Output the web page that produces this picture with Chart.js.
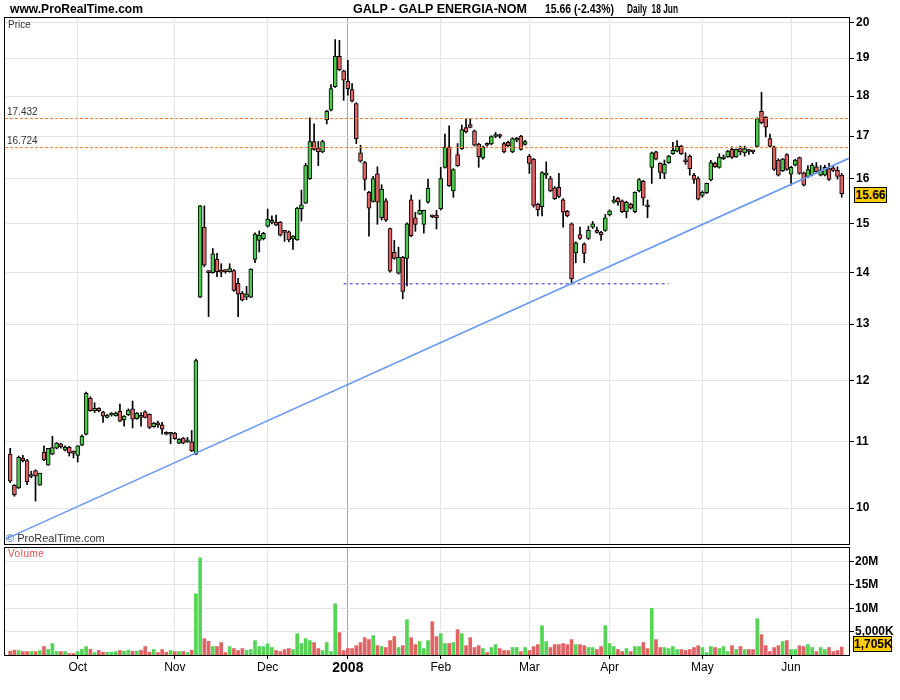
<!DOCTYPE html>
<html>
<head>
<meta charset="utf-8">
<title>GALP - GALP ENERGIA-NOM</title>
<script src="https://cdn.jsdelivr.net/npm/chart.js"></script>
<style>
  body { margin: 0; background: #fff; font-family: "Liberation Sans", Arial, sans-serif; }
  #page { position: relative; width: 900px; height: 700px; overflow: hidden; background: #fff; }
  canvas { position: absolute; left: 0; }
  .txt { position: absolute; white-space: pre; line-height: 1; color: #000; }
  .head { font-size: 13px; font-weight: bold; top: 2px; transform-origin: 0 0; }
  .box { position: absolute; background: #ffcc00; border: 1px solid #000; font-weight: bold;
         font-size: 12px; text-align: center; line-height: 14px; height: 14px; }
</style>
</head>
<body>
<div id="page">
  <canvas id="priceChart" width="900" height="546" style="top:0"></canvas>
  <canvas id="volumeChart" width="900" height="154" style="top:546px"></canvas>

  <div class="txt head" data-w="133" style="left:10px">www.ProRealTime.com</div>
  <div class="txt head" data-w="174" style="left:353px">GALP - GALP ENERGIA-NOM</div>
  <div class="txt head" data-w="69" style="left:545px">15.66 (-2.43%)</div>
  <div class="txt head" data-w="51" style="left:627px">Daily  18 Jun</div>

  <div class="txt" style="left:8px;top:20px;font-size:10px;color:#333">Price</div>
  <div class="txt" id="level0" style="left:7px;font-size:10px;color:#333">17.432</div>
  <div class="txt" id="level1" style="left:7px;font-size:10px;color:#333">16.724</div>
  <div class="txt" style="left:6px;top:533px;font-size:11px;color:#333"><span style="color:#3a6fc4">©</span> ProRealTime.com</div>
  <div class="txt" style="left:8px;top:549px;font-size:10px;color:#e05050;letter-spacing:0.5px">Volume</div>

  <div class="box" id="priceBox" style="left:854px;width:31px">15.66</div>
  <div class="box" id="volumeBox" style="left:853px;width:37px">1,705K</div>
</div>

<script>
const FONT = '"Liberation Sans", Arial, sans-serif';

// first session of each month (slot index) and the axis label shown there
const monthStarts = [16, 39, 61, 80, 102, 123, 142, 164, 185];
const monthLabels = ['Oct', 'Nov', 'Dec', '2008', 'Feb', 'Mar', 'Apr', 'May', 'Jun'];
const yearStart = 80;

const priceTicks = [10, 11, 12, 13, 14, 15, 16, 17, 18, 19, 20];
const volumeTicks = [5, 10, 15, 20];            // millions
const volumeTickLabels = ['5,000K', '10M', '15M', '20M'];

// daily sessions, 6 Sep 2007 .. 18 Jun 2008
const openPrices = [
  10.80,10.33,10.29,10.74,10.70,10.46,10.55,10.33,10.83,10.63,
  10.80,10.89,10.96,10.86,10.91,10.83,10.78,10.94,11.11,11.70,
  11.49,11.53,11.47,11.38,11.42,11.41,11.48,11.34,11.42,11.52,
  11.36,11.39,11.47,11.43,11.23,11.28,11.26,11.14,11.11,11.13,
  10.97,11.05,10.99,10.99,10.80,13.51,14.93,14.00,13.99,14.26,
  14.01,14.02,14.01,14.03,13.78,13.59,13.51,13.51,14.26,14.65,
  14.68,14.95,15.03,15.04,15.04,14.83,14.83,14.68,14.66,15.33,
  15.45,16.00,16.87,16.72,16.62,17.40,17.64,18.24,19.05,18.66,
  18.39,18.17,17.81,16.60,16.37,15.69,15.49,16.11,15.13,15.50,
  14.90,14.40,13.98,14.30,14.28,15.52,15.13,15.21,14.99,15.47,
  15.15,15.19,15.32,16.26,16.74,15.72,16.56,16.70,17.21,17.28,
  17.13,16.81,16.48,16.82,16.81,16.99,17.00,16.82,16.85,16.62,
  16.90,17.00,16.80,16.52,16.45,15.43,15.37,16.08,16.00,15.79,
  15.80,15.52,15.27,15.00,14.39,14.77,14.58,14.69,14.93,14.86,
  14.82,14.86,15.19,15.47,15.56,15.50,15.26,15.43,15.26,15.72,
  15.94,15.37,16.26,16.62,16.35,16.12,16.37,16.58,16.64,16.76,
  16.39,16.52,16.08,16.00,15.62,15.68,15.97,16.35,16.26,16.46,
  16.50,16.68,16.50,16.70,16.60,16.64,16.62,16.75,17.61,17.47,
  16.94,16.74,16.43,16.18,16.56,16.10,16.31,16.49,16.13,16.04,
  16.08,16.27,16.08,16.08,16.23,16.25,16.19,16.08
];
const highPrices = [
  10.89,10.34,10.77,10.78,10.72,10.54,10.56,10.51,10.93,10.89,
  11.08,10.98,10.97,10.93,10.92,10.85,10.93,11.10,11.80,11.72,
  11.62,11.54,11.48,11.43,11.46,11.47,11.60,11.41,11.52,11.65,
  11.46,11.46,11.49,11.44,11.30,11.32,11.30,11.15,11.14,11.14,
  11.04,11.06,11.06,11.17,12.37,15.40,15.39,14.03,14.48,14.38,
  14.17,14.05,14.17,14.05,13.88,13.62,13.72,14.07,14.81,14.85,
  14.82,15.32,15.17,15.19,15.05,14.86,14.85,14.75,15.36,15.74,
  16.35,17.45,17.30,16.87,16.90,17.64,18.30,19.51,19.49,18.68,
  18.94,18.32,17.83,16.78,16.40,15.71,16.05,16.27,15.86,15.55,
  14.91,14.65,14.51,14.32,15.02,15.63,15.25,15.52,15.30,15.99,
  15.19,15.29,16.26,17.05,17.25,16.23,16.82,17.27,17.43,17.43,
  17.15,16.83,16.76,16.84,17.01,17.09,17.05,16.85,16.88,16.96,
  16.97,17.02,16.90,16.56,16.47,15.45,16.16,16.39,16.05,15.82,
  16.12,15.55,15.29,15.02,14.62,14.93,14.60,14.95,15.05,14.93,
  14.84,15.20,15.30,15.60,15.58,15.52,15.49,15.45,15.70,16.00,
  15.96,15.52,16.62,16.64,16.37,16.43,16.54,16.85,16.89,16.78,
  16.60,16.55,16.12,16.04,15.72,15.90,16.42,16.38,16.58,16.55,
  16.66,16.74,16.69,16.76,16.76,16.68,16.66,17.45,18.10,17.48,
  17.05,16.76,16.46,16.47,16.58,16.28,16.45,16.50,16.15,16.30,
  16.35,16.37,16.30,16.31,16.35,16.30,16.27,16.12
];
const lowPrices = [
  10.37,10.17,10.28,10.68,10.34,10.44,10.10,10.33,10.70,10.63,
  10.79,10.88,10.89,10.85,10.77,10.74,10.68,10.93,11.10,11.48,
  11.46,11.47,11.30,11.37,11.40,11.40,11.31,11.24,11.41,11.21,
  11.35,11.24,11.37,11.20,11.22,11.22,11.11,11.10,10.96,11.03,
  10.96,10.96,10.98,10.84,10.79,13.50,14.11,13.14,13.98,13.91,
  13.91,13.98,14.00,13.62,13.14,13.44,13.46,13.50,14.19,14.41,
  14.66,14.93,15.00,14.96,14.74,14.63,14.62,14.46,14.65,15.06,
  15.44,15.98,16.66,16.30,16.60,17.30,17.62,18.22,18.66,17.89,
  18.02,17.85,16.82,16.38,15.74,14.74,15.47,14.99,15.08,15.05,
  14.00,14.26,13.96,13.48,13.73,14.73,14.84,15.20,14.80,15.45,
  15.13,14.89,15.30,16.24,15.82,15.58,16.28,16.68,17.08,17.20,
  16.76,16.26,16.45,16.76,16.79,16.96,16.95,16.60,16.74,16.60,
  16.86,16.66,16.78,16.12,15.36,15.17,15.17,16.00,15.70,15.53,
  15.57,14.93,15.15,13.77,14.19,14.67,14.19,14.67,14.90,14.80,
  14.65,14.84,15.17,15.45,15.40,15.24,15.13,15.32,15.24,15.70,
  15.40,15.13,15.89,16.43,16.00,16.00,16.35,16.56,16.62,16.56,
  16.33,16.08,15.89,15.52,15.58,15.66,15.95,16.26,16.24,16.44,
  16.49,16.47,16.49,16.55,16.52,16.56,16.58,16.74,17.30,16.98,
  16.74,16.19,16.06,16.16,16.19,15.85,16.29,16.10,15.83,16.02,
  16.06,16.13,16.06,16.06,15.96,16.16,15.99,15.58
];
const closePrices = [
  10.39,10.19,10.75,10.70,10.38,10.47,10.47,10.51,10.71,10.89,
  10.90,10.97,10.91,10.91,10.82,10.81,10.93,11.08,11.78,11.49,
  11.53,11.49,11.40,11.42,11.44,11.45,11.32,11.40,11.50,11.35,
  11.45,11.38,11.38,11.22,11.29,11.26,11.19,11.11,11.13,11.04,
  11.03,10.97,11.00,10.85,12.34,15.39,14.14,13.99,14.37,14.01,
  14.00,14.01,14.07,13.64,13.57,13.45,13.57,14.06,14.78,14.76,
  14.80,15.10,15.06,14.97,14.76,14.82,14.66,14.74,15.34,15.41,
  16.30,16.87,16.68,16.62,16.87,17.61,18.19,19.05,18.69,18.41,
  18.19,17.87,16.94,16.40,15.98,15.34,16.00,15.47,15.76,15.08,
  14.02,14.28,14.30,13.62,15.00,14.75,14.99,15.29,15.29,15.78,
  15.15,15.13,16.00,16.73,15.84,16.21,16.30,17.16,17.10,17.21,
  16.78,16.51,16.74,16.78,16.99,17.00,16.99,16.62,16.77,16.94,
  16.92,16.68,16.87,16.35,15.40,15.30,16.14,16.12,15.72,15.55,
  15.60,15.25,15.17,13.87,14.60,14.69,14.38,14.86,15.00,14.82,
  14.77,15.13,15.28,15.52,15.47,15.26,15.47,15.34,15.69,15.98,
  15.56,15.37,16.60,16.45,16.14,16.33,16.52,16.66,16.76,16.58,
  16.39,16.23,15.98,15.54,15.69,15.89,16.37,16.27,16.50,16.50,
  16.64,16.49,16.68,16.62,16.70,16.63,16.62,17.43,17.33,17.22,
  16.75,16.21,16.08,16.45,16.21,16.26,16.43,16.12,15.85,16.21,
  16.31,16.16,16.19,16.26,15.98,16.19,16.05,15.66
];
// volume in millions of shares
const volumes = [
  0.82,1.03,0.96,0.74,0.74,0.74,0.74,0.96,1.81,1.17,
  2.45,0.74,0.74,0.74,0.32,0.32,0.74,1.24,1.81,1.24,
  0.53,0.96,0.60,0.60,0.60,0.74,0.96,0.82,1.03,0.82,
  0.82,1.03,1.81,0.60,1.17,0.53,1.17,0.60,0.96,0.74,
  0.74,0.74,0.53,1.03,13.1,20.8,3.50,2.94,1.81,1.81,
  2.66,0.53,1.81,1.38,0.96,1.38,1.03,1.17,3.09,1.81,
  1.81,2.38,1.60,0.96,0.74,1.17,1.38,1.17,4.57,2.45,
  3.51,3.09,2.66,1.38,0.96,2.66,0.74,10.95,4.79,0.96,
  1.38,1.38,2.00,2.66,3.72,3.30,4.15,2.00,1.81,1.60,
  3.09,3.94,1.60,2.00,7.55,3.72,2.23,2.87,1.38,3.09,
  7.13,3.94,4.57,2.45,2.45,2.66,5.43,4.57,2.00,3.72,
  1.60,2.00,1.38,0.53,1.60,2.23,1.38,0.96,0.96,1.60,
  1.60,0.74,1.60,0.96,1.81,2.23,6.28,2.87,1.60,2.23,
  2.23,2.45,2.23,3.30,2.23,2.23,2.00,1.60,1.60,1.17,
  1.81,6.28,2.45,1.81,1.17,0.74,1.38,0.74,1.81,1.81,
  2.66,1.38,10.0,3.30,1.60,1.60,1.38,1.81,1.17,1.17,
  0.96,1.17,1.60,2.00,1.60,0.53,1.81,1.60,1.38,1.81,
  0.74,2.00,1.17,1.81,1.17,1.17,1.17,7.76,4.36,2.00,
  0.74,1.60,2.00,2.87,3.09,1.17,1.17,2.00,1.81,2.23,
  1.60,0.74,1.60,1.17,1.60,0.74,0.96,1.705
];

// drawn studies
const levelPrices = [17.432, 16.724];
const supportPrice = 13.77;
const supportSlots = [79, 156];
const trendSlots = [-1, 198.7];
const trendPrices = [9.57, 16.47];

const lastClose = closePrices[closePrices.length - 1];
const lastVolume = volumes[volumes.length - 1];

// visible slot range of both panels
const SLOT_MIN = -1.23, SLOT_MAX = 198.73;

const GREEN = '#4dc94d', RED = '#e06262';
const VOL_GREEN = '#55d455', VOL_RED = '#e06464';

const slots = openPrices.map((v, i) => i);
const rising = slots.map(i => closePrices[i] > openPrices[i]);

// squeeze the header strings to the widths of the original narrow font
document.querySelectorAll('.head').forEach(el => {
  const w = el.getBoundingClientRect().width;
  el.style.transform = 'scaleX(' + (el.dataset.w / w) + ')';
});

// black frame round each panel
const framePlugin = {
  id: 'frame',
  afterDraw(chart) {
    const a = chart.chartArea, ctx = chart.ctx;
    ctx.save();
    ctx.strokeStyle = '#000';
    ctx.lineWidth = 1;
    ctx.strokeRect(Math.round(a.left) - 0.5, Math.round(a.top) - 0.5,
                   Math.round(a.right - a.left) + 1, Math.round(a.bottom - a.top) + 1);
    ctx.restore();
  }
};

function monthAxis(showLabels) {
  return {
    type: 'linear', min: SLOT_MIN, max: SLOT_MAX, offset: false, bounds: 'data',
    afterBuildTicks: s => { s.ticks = monthStarts.map(v => ({ value: v })); },
    afterFit: s => { s.height = showLabels ? 45 : 0; s.paddingLeft = 0; s.paddingRight = 0; },
    border: { display: false },
    grid: {
      offset: false,
      color: c => (c.tick && c.tick.value === yearStart ? '#a8a8a8' : '#e3e3e3'),
      drawTicks: showLabels, tickLength: 4, tickColor: '#000'
    },
    ticks: {
      display: showLabels, autoSkip: false, maxRotation: 0, padding: 1, color: '#000',
      callback: v => monthLabels[monthStarts.indexOf(v)],
      font: c => (c.tick && c.tick.value === yearStart
        ? { family: FONT, size: 14, weight: 'bold' }
        : { family: FONT, size: 12 })
    }
  };
}

const quiet = { legend: { display: false }, tooltip: { enabled: false } };

const priceChart = new Chart(document.getElementById('priceChart'), {
  type: 'bar',
  data: {
    datasets: [
      {
        type: 'line', order: 0,
        data: trendSlots.map((s, i) => ({ x: s, y: trendPrices[i] })),
        borderColor: '#6a98f0', borderWidth: 1.6, pointRadius: 0
      },
      ...levelPrices.map(p => ({
        type: 'line', order: 0,
        data: [{ x: SLOT_MIN, y: p }, { x: SLOT_MAX, y: p }],
        borderColor: '#ff7f2a', borderWidth: 1, borderDash: [3, 2], pointRadius: 0
      })),
      {
        type: 'line', order: 0,
        data: supportSlots.map(s => ({ x: s, y: supportPrice })),
        borderColor: '#2b2bc4', borderWidth: 1, borderDash: [3, 3], pointRadius: 0
      },
      {
        order: 1,
        data: slots.map(i => ({ x: i, y: [openPrices[i], closePrices[i]] })),
        backgroundColor: slots.map(i => (rising[i] ? GREEN : RED)),
        borderColor: '#000', borderWidth: 1, borderSkipped: false,
        barThickness: 4, minBarLength: 2, grouped: false
      },
      {
        order: 2,
        data: slots.map(i => ({ x: i, y: [lowPrices[i], highPrices[i]] })),
        backgroundColor: '#000', borderWidth: 0, barThickness: 1, grouped: false
      }
    ]
  },
  options: {
    responsive: false,
    animation: false,
    layout: { padding: { left: 5, top: 18, right: 0, bottom: 2 } },
    plugins: quiet,
    scales: {
      x: monthAxis(false),
      y: {
        type: 'logarithmic', position: 'right', min: 9.5, max: 20.12,
        afterBuildTicks: s => { s.ticks = priceTicks.map(v => ({ value: v })); },
        afterFit: s => { s.width = 51; s.paddingTop = 0; s.paddingBottom = 0; },
        border: { display: true, color: '#000' },
        grid: { color: '#e3e3e3', tickLength: 5, tickColor: '#000' },
        ticks: {
          padding: 2, color: '#000',
          font: { family: FONT, size: 12, weight: 'bold' },
          callback: v => String(v)
        }
      }
    }
  },
  plugins: [framePlugin]
});

const volumeChart = new Chart(document.getElementById('volumeChart'), {
  type: 'bar',
  data: {
    datasets: [{
      data: slots.map(i => ({ x: i, y: volumes[i] })),
      backgroundColor: slots.map(i => (rising[i] ? VOL_GREEN : VOL_RED)),
      borderWidth: 0, barThickness: 3, grouped: false
    }]
  },
  options: {
    responsive: false,
    animation: false,
    layout: { padding: { left: 5, top: 2, right: 0, bottom: 0 } },
    plugins: quiet,
    scales: {
      x: monthAxis(true),
      y: {
        type: 'linear', position: 'right', min: 0, max: 22.9,
        afterBuildTicks: s => { s.ticks = volumeTicks.map(v => ({ value: v })); },
        afterFit: s => { s.width = 51; s.paddingTop = 0; s.paddingBottom = 0; },
        border: { display: true, color: '#000' },
        grid: { color: '#e3e3e3', tickLength: 5, tickColor: '#000' },
        ticks: {
          padding: 1, color: '#000',
          font: { family: FONT, size: 12, weight: 'bold' },
          callback: v => volumeTickLabels[volumeTicks.indexOf(v)]
        }
      }
    }
  },
  plugins: [framePlugin]
});

// place the value boxes and level captions on the scales
const py = priceChart.scales.y.getPixelForValue(lastClose);
document.getElementById('priceBox').style.top = Math.round(py - 7) + 'px';
const vy = 546 + volumeChart.scales.y.getPixelForValue(lastVolume);
document.getElementById('volumeBox').style.top = Math.round(vy - 11) + 'px';
levelPrices.forEach((p, i) => {
  const ly = priceChart.scales.y.getPixelForValue(p);
  document.getElementById('level' + i).style.top = Math.round(ly - 12) + 'px';
});
</script>
</body>
</html>
